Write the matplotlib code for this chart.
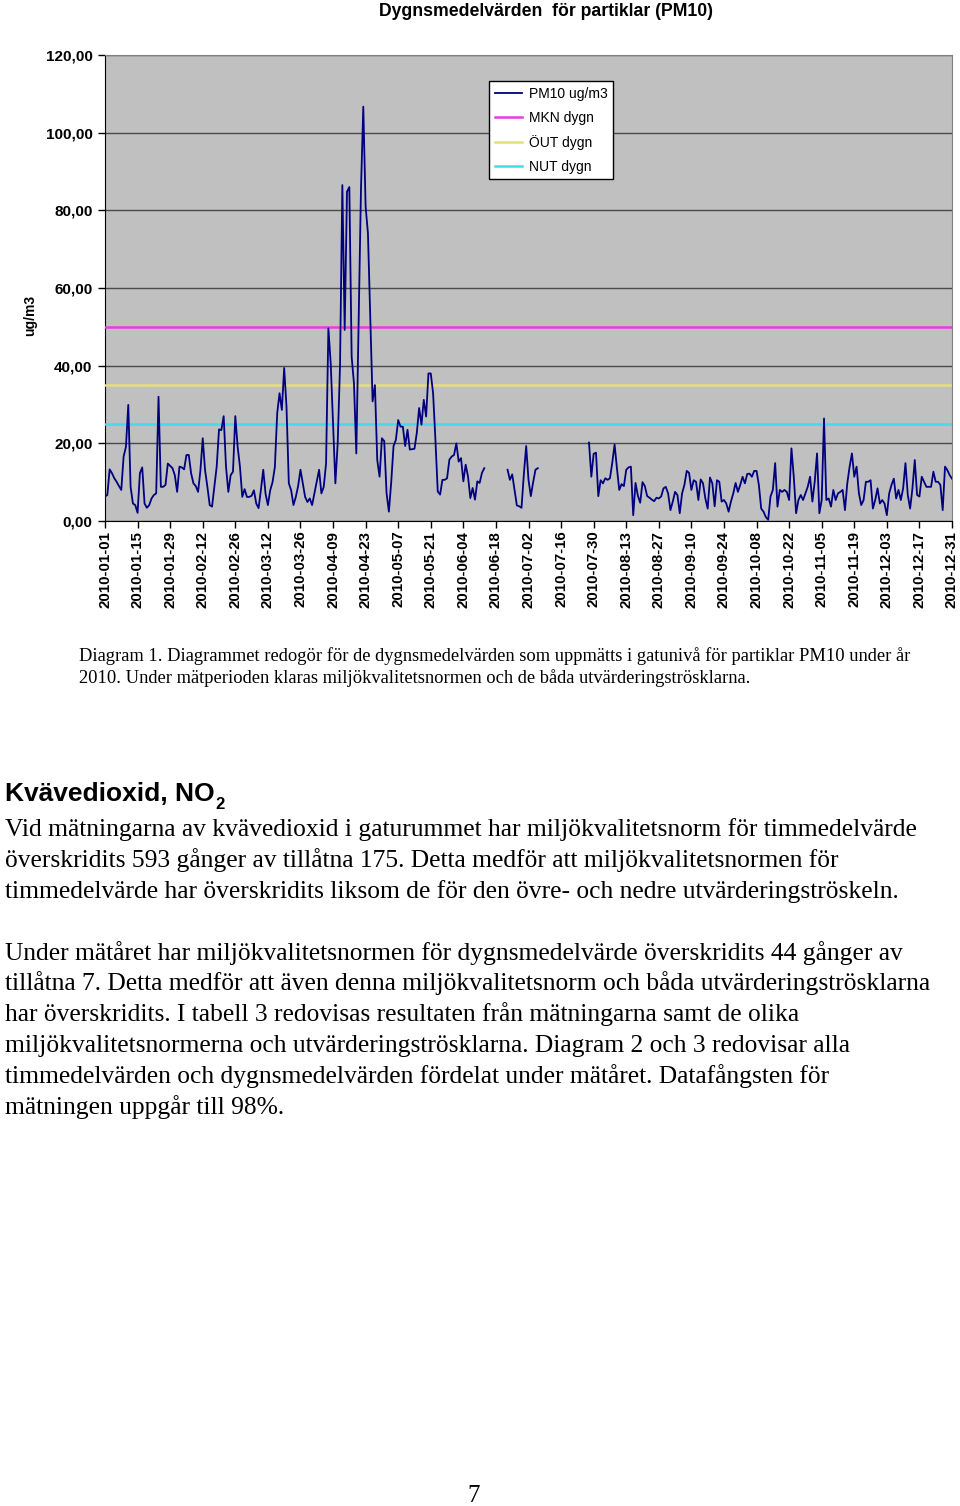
import numpy as np
import pandas as pd
import matplotlib
matplotlib.use('Agg')
import matplotlib.pyplot as plt
import matplotlib.dates as mdates
from matplotlib.ticker import FuncFormatter, MultipleLocator

plt.rcParams['font.family'] = ['Liberation Sans', 'DejaVu Sans']

nan = np.nan

# dygnsmedelvärden PM10 (ug/m3), per månad
jan = [6.3, 6.7, 13.3, 12.3, 11, 10.1, 9, 8, 16.6, 19.1, 29.9, 8.8, 4.5, 4.1, 2.1, 12.3,
       13.8, 4.5, 3.4, 4.1, 5.8, 6.7, 7.1, 32, 8.8, 8.8, 9.3, 14.8, 14.2, 13.6, 11.8]
feb = [7.5, 14, 13.8, 13.3, 17, 17, 12.3, 9.7, 9, 7.5, 13, 21.3, 13.1, 8.8, 4.1, 3.7,
       8.8, 14, 23.6, 23.4, 27, 14, 7.5, 11.8, 12.7, 27, 19.1, 14]
mar = [6.2, 8.2, 6.2, 6.2, 6.5, 7.9, 4.5, 3.3, 8, 13.2, 7, 4.1, 7.9, 10, 13.9, 27.7,
       32.9, 28.6, 39.4, 29.4, 9.7, 7.9, 4.1, 6.2, 9, 13.2, 9.7, 6.2, 4.9, 5.8, 4.1]
apr = [7.1, 10, 13.2, 7.1, 8.8, 14.8, 49.6, 40.6, 25.2, 9.7, 20, 40, 86.5, 49.2, 84.8,
       86, 42.3, 35.4, 17.4, 50.9, 85.2, 106.7, 81, 74.1, 52.6, 30.8, 35, 15.7, 11.4, 21.3]
may = [20.6, 7.2, 2.4, 10, 19.3, 20.9, 26, 24.3, 24.3, 19.3, 23.5, 18.4, 18.5, 18.6,
       22.7, 29.1, 24.8, 31.2, 26.9, 38, 38, 32.9, 20.9, 7.6, 6.8, 10.6, 10.6, 11, 15.8,
       16.6, 17]
jun = [20, 15.3, 16.2, 10.2, 14.5, 11.5, 5.9, 8.5, 5.5, 10.2, 9.8, 12.4, 13.6,
       nan, nan, nan, nan, nan, nan, nan, nan, nan,
       13.2, 10.6, 12, 8, 4, 3.8, 3.4, 12]
jul = [19.3, 10.6, 6.4, 10, 13.2, 13.6,
       nan, nan, nan, nan, nan, nan, nan, nan, nan, nan, nan, nan, nan, nan, nan, nan,
       nan, nan, nan, nan, nan,
       20.2, 11.4, 17.3, 17.6]
aug = [6.4, 10.5, 9.7, 11, 10.6, 11, 15, 19.7, 13.6, 8, 9.5, 9, 13.2, 13.8, 14, 1.5,
       9.8, 6.5, 4.7, 10, 9, 6.4, 6, 5.5, 5.1, 6, 5.8, 6.3, 8.4, 8.8, 7.1]
sep = [2.8, 5, 7.5, 6.7, 2, 7.1, 9.3, 12.9, 12.4, 8, 10.5, 10.1, 5.4, 10.7, 9.7, 5.8,
       3.2, 11.2, 9.7, 3.8, 10.5, 10.1, 5, 5.4, 4.5, 2.4, 5, 7.1, 9.8, 7.5]
okt = [9.3, 11.4, 9.7, 12.1, 12.2, 11.4, 12.9, 12.9, 9.3, 3.2, 2.4, 1, 0.3, 6.3, 8,
       14.9, 3.7, 8, 7.5, 8, 7.5, 5.4, 18.7, 11.4, 2, 5.4, 6.7, 5.4, 7.1, 8.8, 11.4]
nov = [5, 10.1, 17.4, 2, 5.4, 26.4, 5.4, 5.8, 3.7, 8, 5.4, 7.1, 7.5, 8, 2.8, 9.7, 14,
       17.4, 11.4, 14, 7.1, 4.1, 5.4, 10.1, 10.1, 10.5, 3.2, 5.4, 8.4, 4.5]
dec = [5.4, 4.5, 1.5, 7.1, 9.3, 10.9, 5.8, 8, 5.4, 8.4, 14.9, 6.7, 3.2, 8.4, 15.7, 6.7,
       6.3, 11.4, 10.1, 8.8, 8.8, 8.8, 12.7, 10.1, 10.1, 9.3, 2.8, 14, 13.1, 11.8, 10.9]

pm10 = np.array(jan + feb + mar + apr + may + jun + jul + aug + sep + okt + nov + dec)
days = pd.date_range('2010-01-01', periods=len(pm10), freq='D')

mkn_dygn = 50
out_dygn = 35
nut_dygn = 25

fig = plt.figure(figsize=(9.6, 15.06), dpi=100)
ax = fig.add_axes([105/960, 1 - 521/1506, 847/960, 466/1506])
ax.set_facecolor('#c0c0c0')

ax.plot(days, pm10, color='#000080', lw=1.3, label='PM10 ug/m3', zorder=5)
ax.axhline(mkn_dygn, color='#e83ce0', lw=1.8, label='MKN dygn', zorder=3)
ax.axhline(out_dygn, color='#e6de7a', lw=1.8, label='ÖUT dygn', zorder=3)
ax.axhline(nut_dygn, color='#3ce0e6', lw=1.8, label='NUT dygn', zorder=3)

ax.set_ylim(0, 120)
ax.set_xlim(days[0], days[-1])
ax.yaxis.set_major_locator(MultipleLocator(20))
ax.yaxis.set_major_formatter(FuncFormatter(lambda v, p: f'{v:.2f}'.replace('.', ',')))
ticks = pd.date_range('2010-01-01', '2010-12-31', freq='14D')
ax.set_xticks(ticks)
ax.xaxis.set_major_formatter(mdates.DateFormatter('%Y-%m-%d'))
for lab in ax.get_xticklabels():
    lab.set_rotation(90)
    lab.set_fontweight('bold')
    lab.set_fontsize(10.8)
for lab in ax.get_yticklabels():
    lab.set_fontweight('bold')
    lab.set_fontsize(11)
ax.tick_params(axis='x', direction='out', length=5, width=1, color='black', pad=2)
ax.tick_params(axis='y', direction='out', length=5, width=1, color='black', pad=4)
ax.yaxis.grid(True, color='#4a4a4a', lw=1)
ax.set_axisbelow(True)
for s in ['top', 'right']:
    ax.spines[s].set_color('#808080')
for s in ['left', 'bottom']:
    ax.spines[s].set_color('black')

fig.text(30/960, 1 - 315/1506, 'ug/m3', rotation=90, fontsize=10, fontweight='bold',
         ha='center', va='center')
fig.text(546/960, 1 - 11/1506, 'Dygnsmedelvärden  för partiklar (PM10)', fontsize=12.7,
         fontweight='bold', ha='center', va='center')

leg = ax.legend(loc='upper left', bbox_to_anchor=(489/960, 1 - 81/1506),
                bbox_transform=fig.transFigure, borderaxespad=0, fontsize=10,
                frameon=True, fancybox=False, framealpha=1, edgecolor='black',
                handlelength=2.0, handletextpad=0.45, labelspacing=0.72, borderpad=0.4)
leg.get_frame().set_linewidth(1)

serif = ['Liberation Serif', 'DejaVu Serif']
fig.text(79/960, 1 - 661/1506,
         'Diagram 1. Diagrammet redogör för de dygnsmedelvärden som uppmätts i gatunivå för partiklar PM10 under år',
         fontsize=13.3, family=serif, va='baseline')
fig.text(79/960, 1 - 683/1506,
         '2010. Under mätperioden klaras miljökvalitetsnormen och de båda utvärderingströsklarna.',
         fontsize=13.3, family=serif, va='baseline')

head = fig.text(5/960, 1 - 801/1506, 'Kvävedioxid, NO', fontsize=19, fontweight='bold',
                va='baseline')
ax.annotate('2', xy=(1, 0), xycoords=head, xytext=(0.5, -2),
            textcoords='offset points', fontsize=12, fontweight='bold',
            va='baseline', annotation_clip=False)

body = [
    'Vid mätningarna av kvävedioxid i gaturummet har miljökvalitetsnorm för timmedelvärde',
    'överskridits 593 gånger av tillåtna 175. Detta medför att miljökvalitetsnormen för',
    'timmedelvärde har överskridits liksom de för den övre- och nedre utvärderingströskeln.',
    'Under mätåret har miljökvalitetsnormen för dygnsmedelvärde överskridits 44 gånger av',
    'tillåtna 7. Detta medför att även denna miljökvalitetsnorm och båda utvärderingströsklarna',
    'har överskridits. I tabell 3 redovisas resultaten från mätningarna samt de olika',
    'miljökvalitetsnormerna och utvärderingströsklarna. Diagram 2 och 3 redovisar alla',
    'timmedelvärden och dygnsmedelvärden fördelat under mätåret. Datafångsten för',
    'mätningen uppgår till 98%.',
]
baselines = [836, 867, 898, 960, 990, 1021, 1052, 1083, 1114]
for line, yb in zip(body, baselines):
    fig.text(5/960, 1 - yb/1506, line, fontsize=18.4, family=serif, va='baseline')

fig.text(474/960, 1 - 1502/1506, '7', fontsize=18, family=serif, ha='center', va='baseline')

fig.savefig('out.png', dpi=100)
